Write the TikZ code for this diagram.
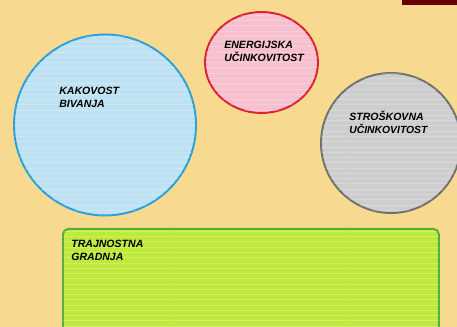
\documentclass[tikz,border=0pt]{standalone}
\usepackage{fontspec}
\setsansfont{Liberation Sans}
\usepackage{xcolor}
\usepackage{tikz}
\usetikzlibrary{shapes.geometric, positioning, patterns}
\definecolor{sandbg}{RGB}{247,218,143}
\definecolor{barred}{RGB}{102,0,0}
\definecolor{bluefill}{RGB}{190,226,241}
\definecolor{blueline}{RGB}{42,160,218}
\definecolor{pinkfill}{RGB}{247,192,207}
\definecolor{pinkline}{RGB}{222,32,52}
\definecolor{grayfill}{RGB}{206,206,206}
\definecolor{grayline}{RGB}{112,112,112}
\definecolor{greenfill}{RGB}{190,234,62}
\definecolor{greenline}{RGB}{82,176,52}

\begin{document}
\begin{tikzpicture}[
    x=0.02cm, y=-0.02cm,
    font=\sffamily\bfseries\itshape\fontsize{6}{7.4}\selectfont,
    crayon/.style={postaction={pattern=horizontal lines,
                               pattern color=white, opacity=0.22}},
    blob/.style={ellipse, line width=1.1pt, inner sep=0pt, crayon},
    gbox/.style={rectangle, draw=greenline, fill=greenfill, line width=1.1pt,
                 rounded corners=3pt, inner sep=0pt, crayon,
                 minimum width=7.52cm, minimum height=2.4cm},
    lbl/.style={anchor=north west, align=left, inner sep=0pt},
]

%% ─── page and background ─────────────────────────────────────
\useasboundingbox (0,0) rectangle (457,327);
\fill[sandbg] (0,0) rectangle (457,327);
\clip (0,0) rectangle (457,327);
\fill[barred] (402,-1) rectangle (458,5);

%% ─── shapes ──────────────────────────────────────────────────
\node[blob, draw=blueline, fill=bluefill,
      minimum width=3.64cm, minimum height=3.62cm] (kak) at (105,125) {};
\node[blob, draw=pinkline, fill=pinkfill,
      minimum width=2.26cm, minimum height=2.02cm] (ene) at (261.5,62.5) {};
\node[blob, draw=grayline, fill=grayfill,
      minimum width=2.8cm, minimum height=2.8cm] (str) at (391,143) {};
\node[gbox, anchor=north west] (tra) at (62,228) {};

%% ─── labels ──────────────────────────────────────────────────
\node[lbl] (kaklbl) at (59,87)  {KAKOVOST\\BIVANJA};
\node[lbl] (enelbl) at (224,41) {ENERGIJSKA\\UČINKOVITOST};
\node[lbl] (strlbl) at (349,111)
    {STROŠKOVNA\\{\fontsize{5.9}{6.6}\selectfont UČINKOVITOST}};
\node[lbl] (tralbl) at (71,240) {TRAJNOSTNA\\GRADNJA};

\end{tikzpicture}
\end{document}
